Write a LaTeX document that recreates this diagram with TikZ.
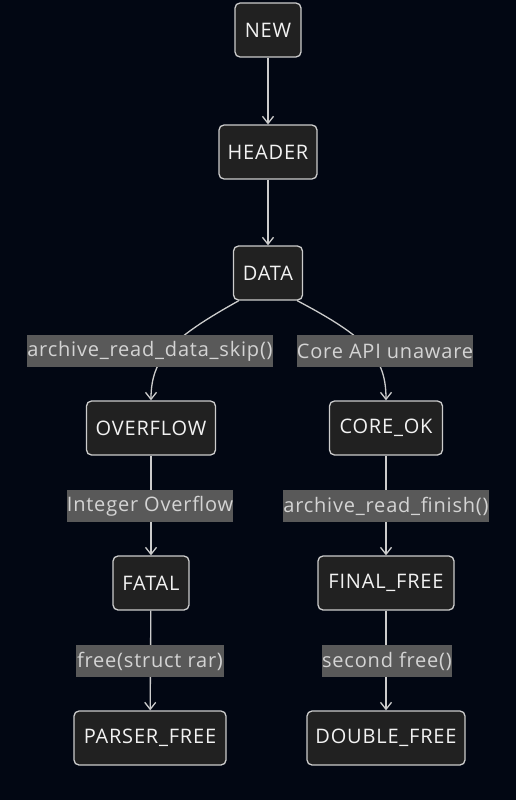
\documentclass[tikz,border=0pt]{standalone}
\usepackage{fontspec}
\setmainfont{Open Sans}[LetterSpace=4]
\usetikzlibrary{arrows.meta,calc}
\definecolor{bgc}{HTML}{020713}
\definecolor{nodefill}{HTML}{212121}
\definecolor{linec}{HTML}{CCCCCC}
\definecolor{lblbg}{HTML}{595959}
\definecolor{lbltxt}{HTML}{D4D4D4}
\definecolor{nodetxt}{HTML}{F2F2F2}
\begin{document}
\begin{tikzpicture}[x=1pt,y=-1pt,
  state/.style={draw=linec,fill=nodefill,line width=1.3pt,rounded corners=5pt,
    minimum height=54pt,inner sep=0pt,text=nodetxt,font=\fontsize{20}{22}\selectfont},
  lbl/.style={fill=lblbg,text=lbltxt,minimum height=32pt,inner sep=0pt,
    font=\fontsize{20}{22}\selectfont},
  edge/.style={draw=linec,line width=1.3pt,-{Straight Barb[length=7pt,width=11pt,line width=1.3pt]}}]
\fill[bgc] (0,0) rectangle (516,800);
\useasboundingbox (0,0) rectangle (516,800);
% nodes
\node[state,minimum width=66pt] (new) at (268,30) {NEW};
\node[state,minimum width=98pt] (header) at (268,152) {HEADER};
\node[state,minimum width=69pt] (data) at (268,273) {DATA};
\node[state,minimum width=129pt] (overflow) at (151,428) {OVERFLOW};
\node[state,minimum width=113pt] (coreok) at (386,428) {CORE\_OK};
\node[state,minimum width=76pt] (fatal) at (151,583) {FATAL};
\node[state,minimum width=136pt] (finalfree) at (386,583) {FINAL\_FREE};
\node[state,minimum width=152pt] (parserfree) at (150,738) {PARSER\_FREE};
\node[state,minimum width=158pt] (doublefree) at (386,738) {DOUBLE\_FREE};
% edges
\draw[edge] (new) -- (header);
\draw[edge] (header) -- (data);
\draw[edge] ($(data.south west)+(6,0)$) .. controls (172,338) and (151,358) .. (overflow.north);
\draw[edge] ($(data.south east)+(-6,0)$) .. controls (368,338) and (386,358) .. (coreok.north);
\draw[edge] (overflow) -- (fatal);
\draw[edge] (fatal) -- (parserfree);
\draw[edge] (coreok) -- (finalfree);
\draw[edge] (finalfree) -- (doublefree);
% labels
\node[lbl,minimum width=246pt] (l1) at (150,351) {archive\_read\_data\_skip()};
\node[lbl,minimum width=171pt] (l2) at (385,351) {Core API unaware};
\node[lbl,minimum width=164pt] (l3) at (150,506) {Integer Overflow};
\node[lbl,minimum width=206pt] (l4) at (386,506) {archive\_read\_finish()};
\node[lbl,minimum width=148pt] (l5) at (150,661) {free(struct rar)};
\node[lbl,minimum width=130pt] (l6) at (387,661) {second free()};
\end{tikzpicture}
\end{document}
